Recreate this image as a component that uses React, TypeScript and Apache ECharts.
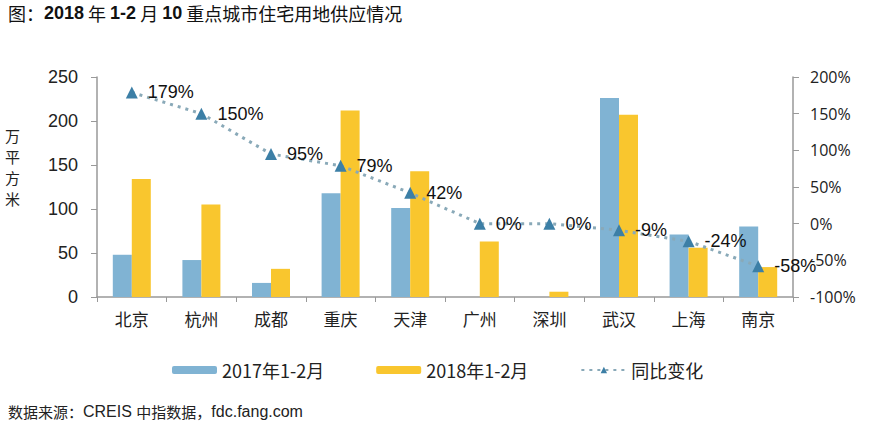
import React, { useEffect, useRef } from "react";
import * as echarts from "echarts";

const cities = ["北京", "杭州", "成都", "重庆", "天津", "广州", "深圳", "武汉", "上海", "南京"];
const supply2017 = [48, 42, 16, 118, 101, 0, 0, 226, 71, 80];
const supply2018 = [134, 105, 32, 212, 143, 63, 6, 207, 56, 34];
const yoyChange = [179, 150, 95, 79, 42, 0, 0, -9, -24, -58];
const leftTicks = { min: 0, max: 250, interval: 50 };
const rightTicks = { min: -100, max: 200, interval: 50 };
const unitChars = ["万", "平", "方", "米"];

const CJK = "'Noto Sans CJK SC', sans-serif";
const LAT = "'Liberation Sans', Arial, sans-serif";

export default function App() {
  const ref = useRef<HTMLDivElement>(null);
  useEffect(() => {
    if (!ref.current) return;
    const chart = echarts.init(ref.current, undefined, { renderer: "svg" });
    chart.setOption({
      animation: false,
      backgroundColor: "#fff",
      grid: { left: 97, right: 77, top: 77, bottom: 129 },
      legend: {
        left: 167,
        top: 356,
        itemWidth: 45,
        itemHeight: 8,
        itemGap: 52,
        textStyle: { fontSize: 18, color: "#222", fontFamily: CJK },
        data: ["2017年1-2月", "2018年1-2月", "同比变化"],
      },
      xAxis: {
        type: "category",
        data: cities,
        axisLine: { lineStyle: { color: "#999", width: 1.5 } },
        axisTick: { show: true, length: 5, lineStyle: { color: "#999" } },
        axisLabel: { fontSize: 17, color: "#222", fontFamily: CJK, margin: 13 },
      },
      yAxis: [
        {
          type: "value",
          ...leftTicks,
          axisLine: { show: true, lineStyle: { color: "#999", width: 1.5 } },
          axisTick: { show: true, length: 6, lineStyle: { color: "#999" } },
          splitLine: { show: false },
          axisLabel: { fontSize: 18, color: "#222", fontFamily: LAT, margin: 19 },
        },
        {
          type: "value",
          ...rightTicks,
          axisLine: { show: true, lineStyle: { color: "#999", width: 1.5 } },
          axisTick: { show: true, length: 6, lineStyle: { color: "#999" } },
          splitLine: { show: false },
          axisLabel: { fontSize: 16, color: "#222", fontFamily: "'Open Sans', sans-serif", margin: 17, formatter: "{value}%" },
        },
      ],
      series: [
        {
          name: "2017年1-2月",
          type: "bar",
          data: supply2017,
          barWidth: 19,
          barGap: "0%",
          itemStyle: { color: "#80b3d3" },
        },
        {
          name: "2018年1-2月",
          type: "bar",
          data: supply2018,
          barWidth: 19,
          barGap: "0%",
          itemStyle: { color: "#f9c62e" },
        },
        {
          name: "同比变化",
          type: "line",
          yAxisIndex: 1,
          data: yoyChange,
          symbol: "triangle",
          symbolSize: 12,
          lineStyle: { color: "#89a9b8", width: 3, type: [3, 5] },
          itemStyle: { color: "#3c7fa6" },
          label: {
            show: true,
            position: "right",
            distance: 10,
            fontSize: 18,
            color: "#111",
            fontFamily: LAT,
            formatter: "{c}%",
          },
          z: 5,
        },
      ],
      graphic: [
        {
          type: "text",
          left: 8,
          top: 4,
          style: {
            text: "{c|图：}{b|2018}{c| 年 }{b|1-2}{c| 月 }{b|10}{c| 重点城市住宅用地供应情况}",
            rich: {
              c: { fontSize: 18, fill: "#111", fontFamily: CJK },
              b: { fontSize: 18, fontWeight: "bold", fill: "#111", fontFamily: LAT },
            },
          },
        },
        ...unitChars.map((ch, i) => ({
          type: "text",
          left: 5,
          top: 126 + i * 21,
          style: {
            text: ch,
            fontSize: 15,
            lineHeight: 18,
            fill: "#222",
            fontFamily: CJK,
          },
        })),
        {
          type: "text",
          left: 8,
          top: 403,
          style: {
            text: "{c|数据来源：}{l|CREIS }{c|中指数据，}{l|fdc.fang.com}",
            rich: {
              c: { fontSize: 15, fill: "#222", fontFamily: CJK },
              l: { fontSize: 16, fill: "#222", fontFamily: LAT },
            },
          },
        },
      ],
    });
    return () => chart.dispose();
  }, []);
  return <div ref={ref} style={{ width: 870, height: 426, position: "absolute", left: 0, top: 0 }} />;
}
